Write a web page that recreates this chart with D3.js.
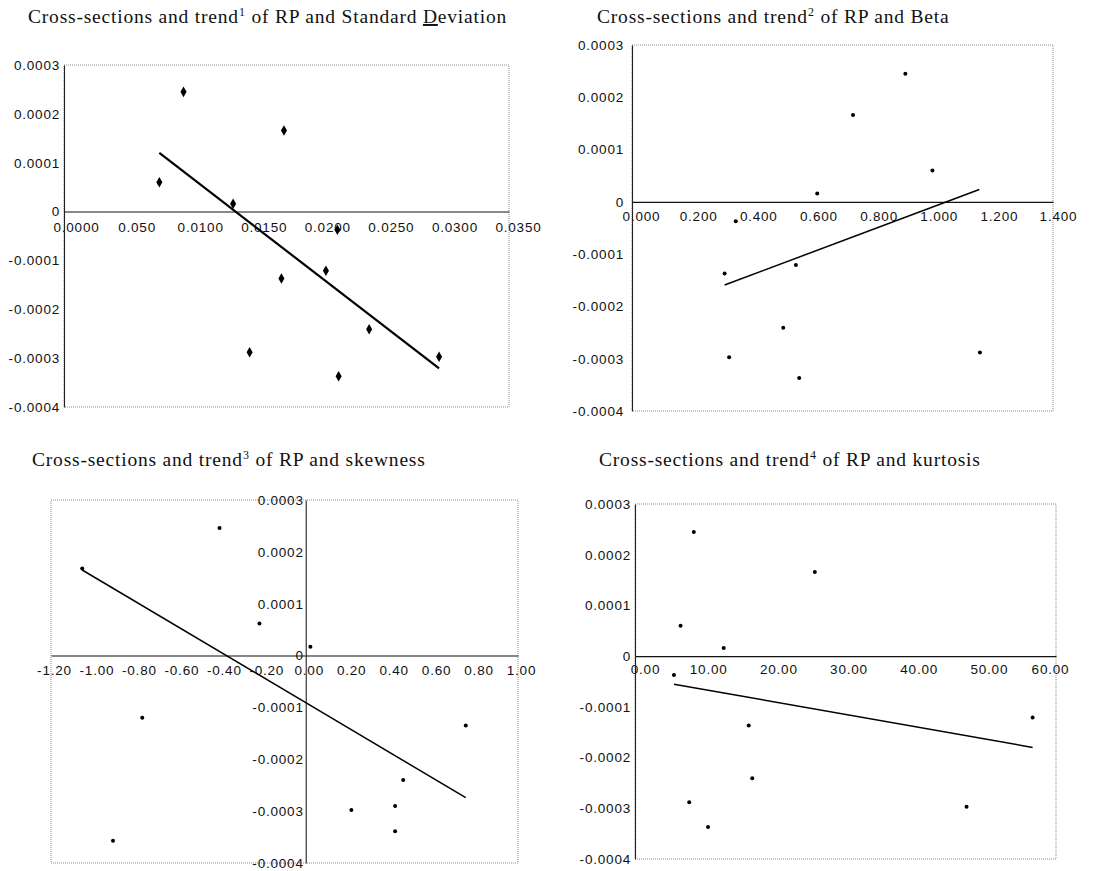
<!DOCTYPE html>
<html>
<head>
<meta charset="utf-8">
<script src="https://cdn.jsdelivr.net/npm/d3@7/dist/d3.min.js"></script>
<style>
body { margin: 0; background: #fff; }
.title { font-family: "Liberation Serif", "Times New Roman", serif; font-size: 19.5px; letter-spacing: 0.8px; fill: #111; }
.tick text { font-family: "Liberation Sans", Arial, sans-serif; font-size: 13.5px; letter-spacing: 0.8px; fill: #111; }
</style>
</head>
<body>
<svg id="chart" width="1093" height="871"></svg>
<script>
// shared y values (risk premium)
const yTicks = [0.0003, 0.0002, 0.0001, 0, -0.0001, -0.0002, -0.0003, -0.0004];
const yTickLabels = ["0.0003", "0.0002", "0.0001", "0", "-0.0001", "-0.0002", "-0.0003", "-0.0004"];
const rp = [0.000060, 0.000245, 0.000016, 0.000166, -0.000037, -0.000137, -0.000121, -0.000288, -0.000241, -0.000337, -0.000297];

// panel 1 : standard deviation
const sdX = [0.0075, 0.0094, 0.0133, 0.0173, 0.0215, 0.0171, 0.0206, 0.0146, 0.0240, 0.0216, 0.0295];
const sdTrendX = [0.0075, 0.0295];
const sdTrendY = [0.000120, -0.000321];
const sdTicks = [0, 0.005, 0.010, 0.015, 0.020, 0.025, 0.030, 0.035];
const sdTickLabels = ["0.0000", "0.050", "0.0100", "0.0150", "0.0200", "0.0250", "0.0300", "0.0350"];

// panel 2 : beta
const betaX = [0.999, 0.909, 0.616, 0.735, 0.345, 0.308, 0.545, 1.157, 0.503, 0.556, 0.323];
const betaTrendX = [0.308, 1.155];
const betaTrendY = [-0.000159, 0.0000236];
const betaTicks = [0, 0.2, 0.4, 0.6, 0.8, 1.0, 1.2, 1.4];
const betaTickLabels = ["0.000", "0.200", "0.400", "0.600", "0.800", "1.000", "1.200", "1.400"];

// panel 3 : skewness
const skewX = [-0.218, -0.406, 0.022, -1.053, -0.908, 0.754, -0.770, 0.421, 0.459, 0.421, 0.215];
const skewRP = [0.000062, 0.000246, 0.000017, 0.000168, -0.000357, -0.000135, -0.000120, -0.000290, -0.000240, -0.000339, -0.000298];
const skewTrendX = [-1.053, 0.754];
const skewTrendY = [0.000165, -0.000274];
const skewTicks = [-1.2, -1.0, -0.8, -0.6, -0.4, -0.2, 0, 0.2, 0.4, 0.6, 0.8, 1.0];
const skewTickLabels = ["-1.20", "-1.00", "-0.80", "-0.60", "-0.40", "-0.20", "0.00", "0.20", "0.40", "0.60", "0.80", "1.00"];

// panel 4 : kurtosis
const kurtX = [6.49, 8.38, 12.64, 25.63, 5.55, 16.21, 56.67, 7.73, 16.71, 10.41, 47.25];
const kurtTrendX = [5.55, 56.67];
const kurtTrendY = [-0.0000553, -0.000180];
const kurtTicks = [0, 10, 20, 30, 40, 50, 60];
const kurtTickLabels = ["0.00", "10.00", "20.00", "30.00", "40.00", "50.00", "60.00"];

const svg = d3.select("#chart");

const panels = [
    {sup: "1", name: ["of RP and Standard ", "D", "eviation"], xs: sdX, ys: rp, tx: sdTrendX, ty: sdTrendY,
     ticks: sdTicks, labels: sdTickLabels, domain: [0, 0.035], yAt: 0, diamonds: true,
     left: 64, top: 65, right: 509, bottom: 407, titleX: 28, titleY: 23,
     yPad: 4, xPad: 10.5, xDx: 9, firstDx: 12, lastDx: 9, lw: 2.2},
    {sup: "2", name: ["of RP and Beta"], xs: betaX, ys: rp, tx: betaTrendX, ty: betaTrendY,
     ticks: betaTicks, labels: betaTickLabels, domain: [0, 1.4], yAt: 0,
     left: 632, top: 45, right: 1053, bottom: 411, titleX: 597, titleY: 23,
     yPad: 8, xPad: 10, xDx: 6, firstDx: 9, lastDx: 5, lw: 1.5},
    {sup: "3", name: ["of RP and skewness"], xs: skewX, ys: skewRP, tx: skewTrendX, ty: skewTrendY,
     ticks: skewTicks, labels: skewTickLabels, domain: [-1.2, 1.0], yAt: 0,
     left: 51, top: 500, right: 518, bottom: 863, titleX: 32, titleY: 466,
     yPad: 2, xPad: 10, xDx: 3, firstDx: 3, lastDx: 3, lw: 1.5},
    {sup: "4", name: ["of RP and kurtosis"], xs: kurtX, ys: rp, tx: kurtTrendX, ty: kurtTrendY,
     ticks: kurtTicks, labels: kurtTickLabels, domain: [0, 60], yAt: 0,
     left: 635, top: 504, right: 1056, bottom: 859, titleX: 599, titleY: 466,
     yPad: 4, xPad: 8.5, xDx: 3, firstDx: 10, lastDx: -6, lw: 1.5}
];

panels.forEach(drawPanel);

function drawPanel(p) {
    const g = svg.append("g");
    const x = d3.scaleLinear().domain(p.domain).range([p.left, p.right]);
    const y = d3.scaleLinear().domain([-0.0004, 0.0003]).range([p.bottom, p.top]);
    const last = p.ticks.length - 1;

    // title
    const t = g.append("text").attr("class", "title").attr("x", p.titleX).attr("y", p.titleY);
    t.append("tspan").text("Cross-sections and trend");
    t.append("tspan").attr("dy", -7).style("font-size", "12px").text(p.sup);
    t.append("tspan").attr("dy", 7).text(" " + p.name[0]);
    if (p.name.length > 1) {
        t.append("tspan")
            .style("text-decoration", "underline")
            .style("text-decoration-color", "#aaa")
            .text(p.name[1]);
        t.append("tspan").text(p.name[2]);
    }

    // dotted plot-area border
    g.append("rect")
        .attr("x", x(p.domain[0])).attr("y", y(0.0003))
        .attr("width", x(p.domain[1]) - x(p.domain[0]))
        .attr("height", y(-0.0004) - y(0.0003))
        .attr("fill", "none")
        .attr("stroke", "#8c8c8c")
        .attr("stroke-width", 1)
        .attr("stroke-dasharray", "1,1");

    //Draw x-axis on the zero line
    const xAxis = d3.axisBottom(x)
        .tickValues(p.ticks)
        .tickFormat((d, i) => p.labels[i])
        .tickSize(0).tickSizeOuter(0).tickPadding(p.xPad);
    g.append("g")
        .attr("transform", "translate(0," + y(0) + ")")
        .call(xAxis)
        .call(a => a.select(".domain").attr("stroke", "#111").attr("stroke-width", 1.1))
        .call(a => a.selectAll(".tick text")
            .attr("dx", (d, i) => i === 0 ? p.firstDx : (i === last ? p.lastDx : p.xDx)));

    //Draw y-axis
    const yAxis = d3.axisLeft(y)
        .tickValues(yTicks)
        .tickFormat((d, i) => yTickLabels[i])
        .tickSize(0).tickSizeOuter(0).tickPadding(p.yPad);
    g.append("g")
        .attr("transform", "translate(" + x(p.yAt) + ",0)")
        .call(yAxis)
        .call(a => a.select(".domain").attr("stroke", "#222").attr("stroke-width", 1.1));

    g.selectAll(".tick text").attr("fill", "#111");

    // trend line
    g.append("path")
        .datum(d3.zip(p.tx, p.ty))
        .attr("fill", "none")
        .attr("stroke", "#000")
        .attr("stroke-width", p.lw)
        .attr("d", d3.line().x(d => x(d[0])).y(d => y(d[1])));

    // points
    const pts = d3.zip(p.xs, p.ys);
    if (p.diamonds) {
        g.selectAll(".pt").data(pts).enter().append("path")
            .attr("class", "pt")
            .attr("transform", d => "translate(" + x(d[0]) + "," + y(d[1]) + ")")
            .attr("d", d3.symbol(d3.symbolDiamond, 32))
            .attr("fill", "#000");
    } else {
        g.selectAll(".pt").data(pts).enter().append("circle")
            .attr("class", "pt")
            .attr("cx", d => x(d[0]))
            .attr("cy", d => y(d[1]))
            .attr("r", 2)
            .attr("fill", "#000");
    }
}
</script>
</body>
</html>
